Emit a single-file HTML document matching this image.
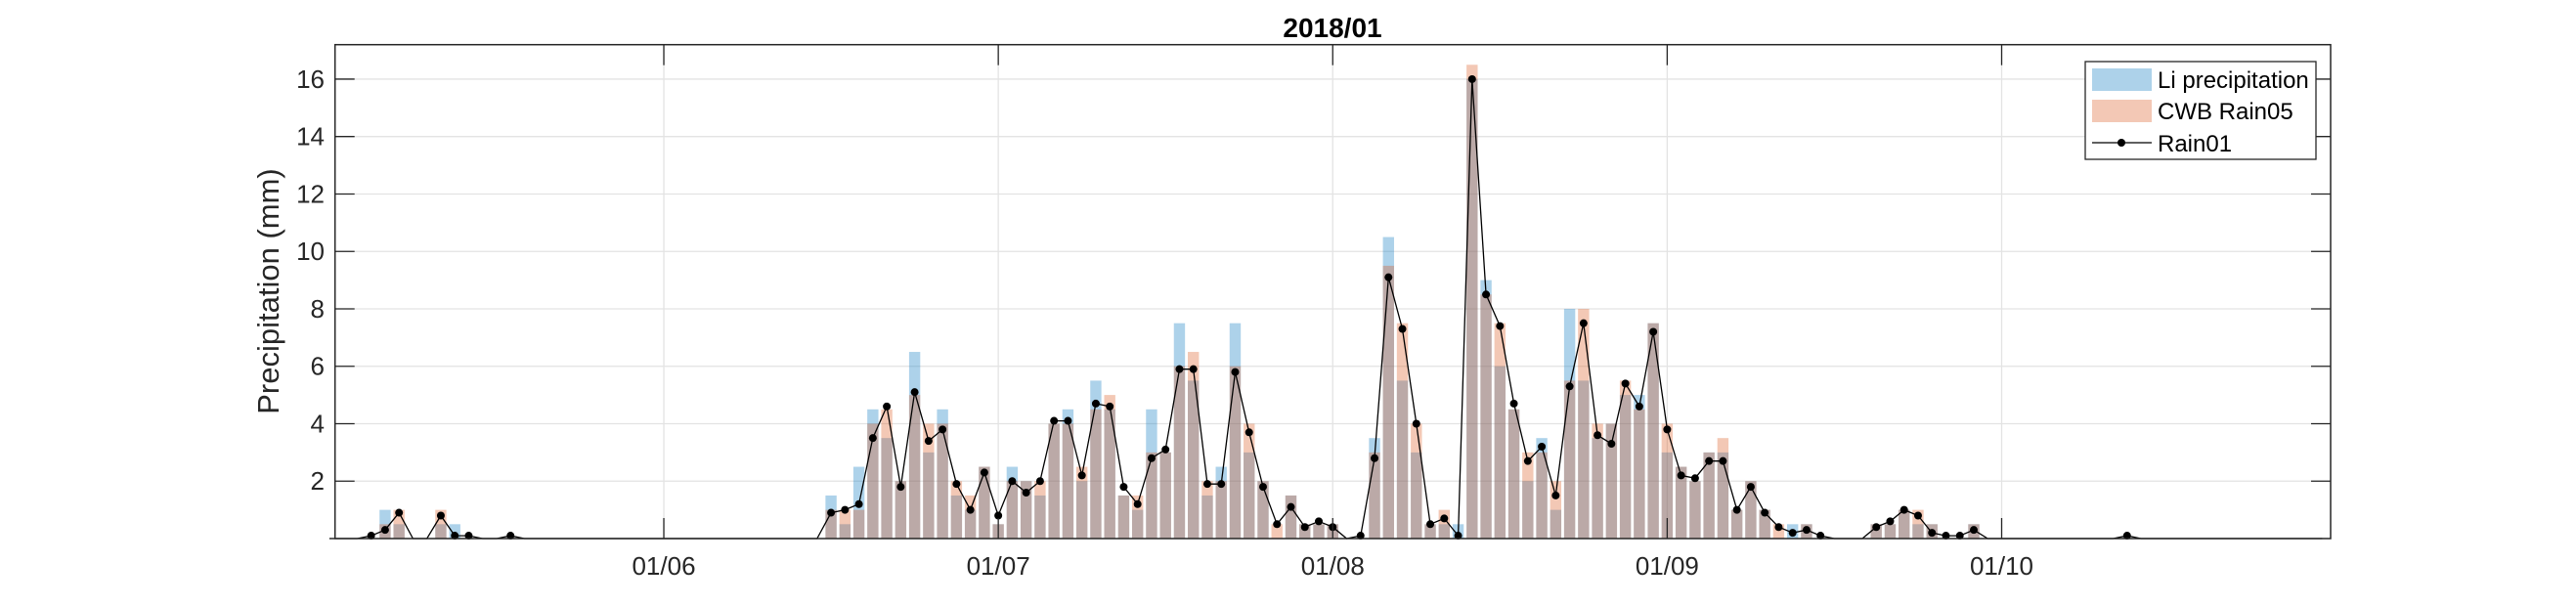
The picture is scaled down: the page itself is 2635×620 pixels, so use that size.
<!DOCTYPE html>
<html><head><meta charset="utf-8"><style>
html,body{margin:0;padding:0;background:#fff;}
svg{display:block;font-family:"Liberation Sans",Arial,sans-serif;}
</style></head><body>
<svg id="chart" width="2635" height="620" viewBox="0 0 2635 620" xmlns="http://www.w3.org/2000/svg">
<rect x="0" y="0" width="2635" height="620" fill="#fff"/>
<g id="grid"></g>
<g id="bars"></g>
<g id="line"></g>
<g id="axes"></g>
<text x="1363" y="38" text-anchor="middle" font-size="28" font-weight="bold" fill="#000">2018/01</text>
<text transform="translate(285,298) rotate(-90)" text-anchor="middle" font-size="31" fill="#262626">Precipitation (mm)</text>
<g>
<rect x="2133" y="63" width="236" height="100" fill="#fff" stroke="#262626" stroke-width="1.3"/>
<rect x="2140" y="70" width="61" height="23" fill="rgb(0,114,189)" fill-opacity="0.32"/>
<text x="2207" y="90" font-size="24" fill="#000">Li precipitation</text>
<rect x="2140" y="102" width="61" height="23" fill="rgb(217,83,25)" fill-opacity="0.32"/>
<text x="2207" y="122" font-size="24" fill="#000">CWB Rain05</text>
<line x1="2140" y1="146" x2="2201" y2="146" stroke="#000" stroke-width="1.3"/>
<circle cx="2170" cy="146" r="4" fill="#000"/>
<text x="2207" y="155" font-size="24" fill="#000">Rain01</text>
</g>
</svg>
<script>
const hours = Array.from({length:144},(_,i)=>i);
const liPrecip = [0,0,0,0,1,0.5,0,0,0.5,0.5,0,0,0,0,0,0,0,0,0,0,0,0,0,0,
0,0,0,0,0,0,0,0,0,0,0,0,1.5,0.5,2.5,4.5,3.5,2,6.5,3,4.5,1.5,1,2.5,
0.5,2.5,2,1.5,4,4.5,2,5.5,4.5,1.5,1,4.5,3,7.5,5.5,1.5,2.5,7.5,3,2,0,1.5,0.5,0.5,
0.5,0,0,3.5,10.5,5.5,3,0.5,0.5,0.5,16,9,6,4.5,2,3.5,1,8,5.5,3.5,4,5,5,7.5,
3,2.5,2,3,3,1,2,1,0,0.5,0.5,0,0,0,0,0.5,0.5,1,0.5,0.5,0,0,0.5,0,
0,0,0,0,0,0,0,0,0,0,0,0,0,0,0,0,0,0,0,0,0,0,0,0];
const cwbRain05 = [0,0,0,0,0.5,1,0,0,1,0,0,0,0,0,0,0,0,0,0,0,0,0,0,0,
0,0,0,0,0,0,0,0,0,0,0,0,1,1,1,4,4.5,2,5,4,4,2,1.5,2.5,
0.5,2,2,2,4,4,2.5,4.5,5,1.5,1.5,3,3,6,6.5,2,2,6,4,2,0.5,1.5,0.5,0.5,
0.5,0,0,3,9.5,7.5,4,0.5,1,0,16.5,8.5,7.5,4.5,3,3,2,5.5,8,4,4,5.5,4.5,7.5,
4,2.5,2,3,3.5,1,2,1,0.5,0,0.5,0,0,0,0,0.5,0.5,1,1,0.5,0,0,0.5,0,
0,0,0,0,0,0,0,0,0,0,0,0,0,0,0,0,0,0,0,0,0,0,0,0];
const rain01 = [0,0,0,0.1,0.3,0.9,0,0,0.8,0.1,0.1,0,0,0.1,0,0,0,0,0,0,0,0,0,0,
0,0,0,0,0,0,0,0,0,0,0,0,0.9,1.0,1.2,3.5,4.6,1.8,5.1,3.4,3.8,1.9,1.0,2.3,
0.8,2.0,1.6,2.0,4.1,4.1,2.2,4.7,4.6,1.8,1.2,2.8,3.1,5.9,5.9,1.9,1.9,5.8,3.7,1.8,0.5,1.1,0.4,0.6,
0.4,0,0.1,2.8,9.1,7.3,4.0,0.5,0.7,0.1,16.0,8.5,7.4,4.7,2.7,3.2,1.5,5.3,7.5,3.6,3.3,5.4,4.6,7.2,
3.8,2.2,2.1,2.7,2.7,1.0,1.8,0.9,0.4,0.2,0.3,0.1,0,0,0,0.4,0.6,1.0,0.8,0.2,0.1,0.1,0.3,0,
0,0,0,0,0,0,0,0,0,0.1,0,0,0,0,0,0,0,0,0,0,0,0,0,0];
const yTicks = [2,4,6,8,10,12,14,16];
const xTickHours = [24,48,72,96,120];
const xTickLabels = ["01/06","01/07","01/08","01/09","01/10"];

const NS="http://www.w3.org/2000/svg";
const L=342.7,R=2384,T=45.7,B=551,YMAX=17.2;
const X0=336.9,HW=14.255;
function xs(h){return X0+h*HW;}
function ys(v){return B-(v/YMAX)*(B-T);}
function mk(tag,attrs,parent){const e=document.createElementNS(NS,tag);for(const k in attrs)e.setAttribute(k,attrs[k]);parent.appendChild(e);return e;}
const grid=document.getElementById('grid'),bars=document.getElementById('bars'),line=document.getElementById('line'),axes=document.getElementById('axes');

yTicks.forEach(v=>{
  const g=mk('line',{x1:L,x2:R,y1:ys(v),y2:ys(v),stroke:'#e3e3e3','stroke-width':1.3},grid);
  
  
  const t1=mk('line',{x1:L,x2:L+20,y1:ys(v),y2:ys(v),stroke:'#262626','stroke-width':1.3},axes);
  
  
  const t2=mk('line',{x1:R-20,x2:R,y1:ys(v),y2:ys(v),stroke:'#262626','stroke-width':1.3},axes);
  
  
  const lb=mk('text',{x:332,y:ys(v)+9,'text-anchor':'end','font-size':26,fill:'#262626'},axes);
  lb.textContent=v;
  
  
});
xTickHours.forEach((h,i)=>{
  const x=xs(h);
  const g=mk('line',{x1:x,x2:x,y1:T,y2:B,stroke:'#e3e3e3','stroke-width':1.3},grid);
  
  
  const t1=mk('line',{x1:x,x2:x,y1:B-21,y2:B,stroke:'#262626','stroke-width':1.3},axes);
  
  
  const t2=mk('line',{x1:x,x2:x,y1:T,y2:T+21,stroke:'#262626','stroke-width':1.3},axes);
  
  
  const lb=mk('text',{x:x,y:588,'text-anchor':'middle','font-size':26,fill:'#262626'},axes);
  lb.textContent=xTickLabels[i];
  
  
});
const bw=HW*0.8;
hours.forEach(h=>{
  if(liPrecip[h]>0){
    const r=mk('rect',{x:xs(h)-bw/2,y:ys(liPrecip[h]),width:bw,height:B-ys(liPrecip[h]),fill:'rgb(0,114,189)','fill-opacity':0.32},bars);
    
    
  }
});
hours.forEach(h=>{
  if(cwbRain05[h]>0){
    const r=mk('rect',{x:xs(h)-bw/2,y:ys(cwbRain05[h]),width:bw,height:B-ys(cwbRain05[h]),fill:'rgb(217,83,25)','fill-opacity':0.32},bars);
    
    
  }
});
const pts=hours.map(h=>xs(h).toFixed(1)+','+ys(rain01[h]).toFixed(1)).join(' ');
const pl=mk('polyline',{points:pts,fill:'none',stroke:'#000','stroke-width':1.3},line);


hours.forEach(h=>{
  if(rain01[h]>0){
    const c=mk('circle',{cx:xs(h),cy:ys(rain01[h]),r:4,fill:'#000'},line);
    
    
  }
});
const box=mk('rect',{x:L,y:T,width:R-L,height:B-T,fill:'none',stroke:'#262626','stroke-width':1.5},axes);


</script>
</body></html>
